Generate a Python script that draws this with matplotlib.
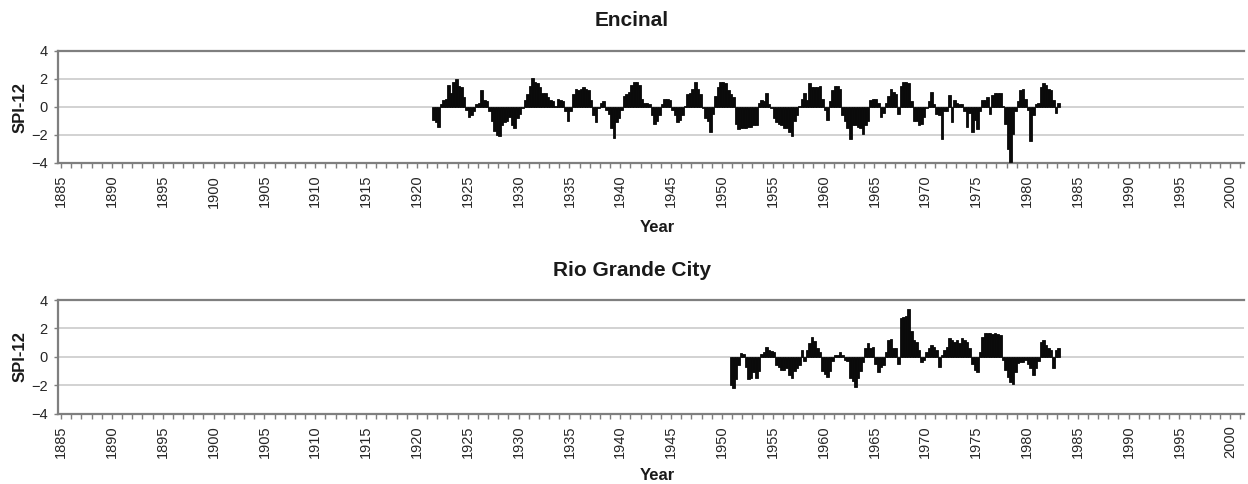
import numpy as np
import matplotlib
matplotlib.use("Agg")
import matplotlib.pyplot as plt
from matplotlib.ticker import FixedLocator, MultipleLocator

plt.rcParams['font.family'] = ['Liberation Sans', 'DejaVu Sans']

# Quarterly SPI-12 values (Q1..Q4 of each year), first value at the start year below
encinal_start = 1921.5
encinal_spi = [
    -0.9, -1.1,                      # 1921 Q3-Q4
    -1.4, 0.2, 0.5, 0.6,             # 1922
    1.6, 1.0, 1.8, 2.0,              # 1923
    1.5, 1.4, 0.7, -0.2,             # 1924
    -0.7, -0.6, -0.3, 0.2,           # 1925
    0.3, 1.2, 0.5, 0.4,              # 1926
    -0.3, -1.0, -1.7, -2.0,          # 1927
    -2.1, -1.3, -1.1, -1.0,          # 1928
    -0.7, -1.3, -1.5, -0.8,          # 1929
    -0.5, -0.1, 0.5, 0.9,            # 1930
    1.5, 2.1, 1.8, 1.7,              # 1931
    1.4, 1.0, 1.0, 0.7,              # 1932
    0.5, 0.4, 0.1, 0.6,              # 1933
    0.5, 0.4, -0.3, -1.0,            # 1934
    -0.3, 0.9, 1.3, 1.2,             # 1935
    1.3, 1.4, 1.3, 1.2,              # 1936
    0.5, -0.6, -1.1, -0.1,           # 1937
    0.3, 0.4, -0.2, -0.5,            # 1938
    -1.5, -2.2, -1.1, -0.8,          # 1939
    -0.2, 0.8, 0.9, 1.1,             # 1940
    1.6, 1.8, 1.8, 1.6,              # 1941
    0.6, 0.3, 0.3, 0.2,              # 1942
    -0.6, -1.2, -1.0, -0.6,          # 1943
    0.2, 0.6, 0.6, 0.5,              # 1944
    -0.2, -0.6, -1.1, -0.9,          # 1945
    -0.6, 0.1, 0.9, 1.0,             # 1946
    1.3, 1.8, 1.3, 0.9,              # 1947
    -0.1, -0.8, -1.0, -1.8,          # 1948
    -0.5, 0.8, 1.4, 1.8,             # 1949
    1.8, 1.7, 1.2, 0.9,              # 1950
    0.7, -1.2, -1.6, -1.5,           # 1951
    -1.5, -1.5, -1.4, -1.4,          # 1952
    -1.3, -1.3, 0.3, 0.5,            # 1953
    0.4, 1.0, 0.2, -0.1,             # 1954
    -0.8, -1.1, -1.2, -1.3,          # 1955
    -1.5, -1.5, -1.8, -2.1,          # 1956
    -1.0, -0.6, 0.1, 0.6,            # 1957
    1.0, 0.5, 1.7, 1.4,              # 1958
    1.4, 1.4, 1.5, 0.6,              # 1959
    -0.2, -0.9, 0.4, 1.2,            # 1960
    1.5, 1.5, 1.3, -0.6,             # 1961
    -1.0, -1.5, -2.3, -1.3,          # 1962
    -1.3, -1.4, -1.5, -1.9,          # 1963
    -1.3, -1.0, 0.5, 0.6,            # 1964
    0.6, 0.3, -0.7, -0.4,            # 1965
    0.3, 0.8, 1.3, 1.1,              # 1966
    0.9, -0.5, 1.5, 1.8,             # 1967
    1.8, 1.7, 0.4, -1.0,             # 1968
    -1.0, -1.3, -1.2, -0.7,          # 1969
    -0.1, 0.4, 1.1, 0.2,             # 1970
    -0.5, -0.6, -2.3, -0.3,          # 1971
    -0.3, 0.85, -1.1, 0.5,           # 1972
    0.3, 0.25, 0.2, -0.3,            # 1973
    -1.4, -0.4, -1.75, -0.9,         # 1974
    -1.6, -0.3, 0.5, 0.5,            # 1975
    0.7, -0.5, 0.85, 1.0,            # 1976
    1.0, 1.0, 0.1, -1.2,             # 1977
    -3.0, -3.95, -1.9, -0.3,         # 1978
    0.4, 1.2, 1.3, 0.6,              # 1979
    -0.2, -2.4, -0.6, 0.2,           # 1980
    0.3, 1.4, 1.7, 1.6,              # 1981
    1.3, 1.2, 0.5, -0.4,             # 1982
    0.3,                             # 1983 Q1
]

rio_start = 1950.75
rio_spi = [
    -2.0,                            # 1950 Q4
    -2.2, -1.6, -0.6, 0.25,          # 1951
    0.2, -0.7, -1.6, -1.5,           # 1952
    -1.05, -1.5, -1.0, 0.2,          # 1953
    0.3, 0.7, 0.45, 0.4,             # 1954
    0.35, -0.6, -0.75, -0.9,         # 1955
    -0.95, -0.8, -1.3, -1.5,         # 1956
    -1.0, -0.8, -0.6, 0.5,           # 1957
    -0.3, 0.5, 1.0, 1.4,             # 1958
    1.1, 0.6, 0.3, -1.0,             # 1959
    -1.2, -1.4, -1.0, -0.3,          # 1960
    0.1, 0.1, 0.35, 0.1,             # 1961
    -0.2, -0.3, -1.5, -1.7,          # 1962
    -2.1, -1.5, -1.0, -0.4,          # 1963
    0.6, 0.95, 0.6, 0.7,             # 1964
    -0.5, -1.05, -0.7, -0.6,         # 1965
    0.35, 1.2, 1.25, 0.6,            # 1966
    0.6, -0.5, 2.7, 2.8,             # 1967
    2.9, 3.4, 1.8, 1.2,              # 1968
    1.05, 0.5, -0.4, -0.2,           # 1969
    0.3, 0.6, 0.8, 0.7,              # 1970
    0.5, -0.7, 0.1, 0.5,             # 1971
    0.7, 1.3, 1.2, 1.05,             # 1972
    1.2, 1.0, 1.3, 1.2,              # 1973
    1.05, 0.6, -0.5, -0.9,           # 1974
    -1.05, 0.3, 1.4, 1.65,           # 1975
    1.65, 1.7, 1.6, 1.65,            # 1976
    1.6, 1.5, -0.2, -0.95,           # 1977
    -1.4, -1.75, -1.9, -1.05,        # 1978
    -0.45, -0.35, -0.35, -0.25,      # 1979
    -0.5, -0.8, -1.3, -0.8,          # 1980
    -0.3, 1.05, 1.2, 0.8,            # 1981
    0.6, 0.5, -0.8, 0.5,             # 1982
    0.6,                             # 1983 Q1
]

station_names = ["Encinal", "Rio Grande City"]
year_labels = list(range(1885, 2001, 5))
y_ticks = [-4, -2, 0, 2, 4]

STEP = 0.25
GRID = "#c6c6c6"
SPINE = "#7f7f7f"
TEXT = "#1a1a1a"

fig = plt.figure(figsize=(12.48, 4.84), dpi=100)
W, H = 1248.0, 484.0

panels = [
    # (left, top, right, bottom) in pixels, title y, xlabel y, ylabel y
    dict(box=(57.5, 51, 1243.5, 163), title_y=20, xlab_y=228, ylab_y=108,
         start=encinal_start, values=encinal_spi),
    dict(box=(57.5, 300, 1243.5, 413.5), title_y=270, xlab_y=475, ylab_y=357,
         start=rio_start, values=rio_spi),
]

for name, p in zip(station_names, panels):
    l, t, r, b = p["box"]
    ax = fig.add_axes([l / W, 1 - b / H, (r - l) / W, (b - t) / H])

    vals = np.asarray(p["values"], dtype=float)
    x = p["start"] + STEP * np.arange(len(vals))
    ax.bar(x, vals, width=STEP, align="edge", color="#0a0a0a",
           edgecolor="#0a0a0a", linewidth=0.6, zorder=3)

    ax.set_xlim(1884.65, 2001.3)
    ax.set_ylim(-4, 4)

    ax.yaxis.set_major_locator(FixedLocator(y_ticks))
    ax.xaxis.set_major_locator(FixedLocator(year_labels))
    ax.xaxis.set_minor_locator(MultipleLocator(1))
    ax.set_xticklabels([str(y) for y in year_labels], rotation=90)

    for yv in [-2, 0, 2]:
        ax.axhline(yv, color=GRID, linewidth=1.1, zorder=1)

    for side in ["left", "bottom", "top"]:
        ax.spines[side].set_color(SPINE)
        ax.spines[side].set_linewidth(1.6)
    ax.spines["right"].set_visible(False)

    ax.tick_params(axis="both", which="both", color=SPINE, width=1.0,
                   direction="out", labelsize=10.5, labelcolor="#262626")
    ax.tick_params(axis="x", which="major", length=3.5, pad=5)
    ax.tick_params(axis="x", which="minor", length=3.5)
    ax.tick_params(axis="y", which="major", length=3, pad=4)

    fig.text(632 / W, 1 - p["title_y"] / H, name, ha="center", va="center",
             fontsize=15, fontweight="bold", color=TEXT)
    fig.text(657 / W, 1 - p["xlab_y"] / H, "Year", ha="center", va="center",
             fontsize=12, fontweight="bold", color=TEXT)
    fig.text(20 / W, 1 - p["ylab_y"] / H, "SPI-12", ha="center", va="center",
             rotation=90, fontsize=12, fontweight="bold", color=TEXT)

fig.savefig("out.png", dpi=100)
